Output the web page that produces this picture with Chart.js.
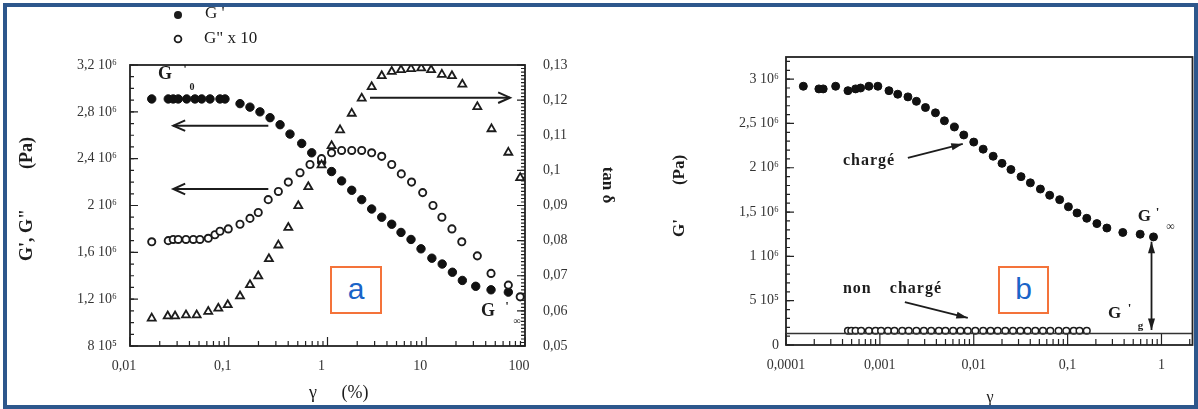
<!DOCTYPE html>
<html>
<head>
<meta charset="utf-8">
<script src="https://cdn.jsdelivr.net/npm/chart.js@4.4.1/dist/chart.umd.min.js"></script>
<style>
  html, body { margin: 0; padding: 0; background: #fff; overflow: hidden; }
  #wrap { position: relative; width: 1198px; height: 409px; background: #fff; }
  #chartA { position: absolute; left: 0; top: 0; width: 620px; height: 409px; }
  #chartB { position: absolute; left: 600px; top: 0; width: 598px; height: 409px; }
  .frame { position: absolute; left: 3px; top: 3px; width: 1195px; height: 406px; box-sizing: border-box;
           border: 4px solid #2d578c; pointer-events: none; }
  .tag { position: absolute; box-sizing: border-box; border: 2px solid #f4733a; background: #fff;
         color: #1a64c8; font: 30px "Liberation Sans", Arial, sans-serif; text-align: center; }
</style>
</head>
<body>
<div id="wrap">
  <canvas id="chartA" width="620" height="409"></canvas>
  <canvas id="chartB" width="598" height="409"></canvas>
  <div class="tag" style="left:330px;top:266px;width:52px;height:48px;line-height:42px;">a</div>
  <div class="tag" style="left:998px;top:266px;width:51px;height:48px;line-height:42px;">b</div>
  <div class="frame"></div>
</div>
<script>
// ---- panel a : strain sweep (γ in %), G' and G"x10 on left axis, tan δ on right axis
const strainGpA = [0.0166, 0.0244, 0.0274, 0.0308, 0.0375, 0.0455, 0.0532, 0.0646, 0.0815, 0.0916,
  0.130, 0.164, 0.207, 0.262, 0.331, 0.417, 0.548, 0.692, 0.873, 1.10, 1.39, 1.76, 2.22, 2.80,
  3.54, 4.47, 5.55, 7.01, 8.85, 11.4, 14.5, 18.4, 23.2, 31.7, 45.3, 67.8];
const gPrimeA = [2.91e6, 2.91e6, 2.91e6, 2.91e6, 2.91e6, 2.91e6, 2.91e6, 2.91e6, 2.91e6, 2.91e6,
  2.87e6, 2.84e6, 2.80e6, 2.75e6, 2.69e6, 2.61e6, 2.53e6, 2.45e6, 2.37e6, 2.29e6, 2.21e6, 2.13e6,
  2.05e6, 1.97e6, 1.90e6, 1.84e6, 1.77e6, 1.71e6, 1.63e6, 1.55e6, 1.50e6, 1.43e6, 1.36e6, 1.31e6,
  1.28e6, 1.26e6];

const strainGppA = [0.0166, 0.0244, 0.0274, 0.0308, 0.0369, 0.0438, 0.0511, 0.0620, 0.0725, 0.0815,
  0.0989, 0.130, 0.164, 0.199, 0.251, 0.318, 0.401, 0.527, 0.665, 0.870, 1.10, 1.39, 1.76, 2.22,
  2.80, 3.54, 4.47, 5.59, 7.10, 9.2, 11.7, 14.4, 18.2, 22.9, 32.9, 45.3, 67.8, 89.4];
const gDouble10A = [1.69e6, 1.70e6, 1.71e6, 1.71e6, 1.71e6, 1.71e6, 1.71e6, 1.72e6, 1.75e6, 1.78e6,
  1.80e6, 1.84e6, 1.89e6, 1.94e6, 2.05e6, 2.12e6, 2.20e6, 2.28e6, 2.35e6, 2.40e6, 2.45e6, 2.47e6,
  2.47e6, 2.47e6, 2.45e6, 2.42e6, 2.35e6, 2.27e6, 2.20e6, 2.11e6, 2.00e6, 1.90e6, 1.80e6, 1.69e6,
  1.57e6, 1.42e6, 1.32e6, 1.22e6];

const strainTanA = [0.0166, 0.0241, 0.0286, 0.0369, 0.0473, 0.0620, 0.0784, 0.0976, 0.130, 0.164,
  0.199, 0.255, 0.318, 0.401, 0.506, 0.639, 0.87, 1.10, 1.34, 1.76, 2.22, 2.80, 3.54, 4.47, 5.55,
  7.01, 8.9, 11.2, 14.4, 18.2, 23.2, 32.9, 45.8, 67.8, 89.4];
const tanDeltaA = [0.0579, 0.0585, 0.0585, 0.0588, 0.0588, 0.0598, 0.0607, 0.0617, 0.0642, 0.0674,
  0.0699, 0.0748, 0.0787, 0.0837, 0.0899, 0.0953, 0.1015, 0.107, 0.1115, 0.1162, 0.1205, 0.1238,
  0.1269, 0.1281, 0.1286, 0.1289, 0.1291, 0.1286, 0.1273, 0.1269, 0.1245, 0.1181, 0.1118, 0.1051,
  0.0979];

const xTicksA = [0.01, 0.1, 1, 10, 100];
const xLabelsA = ['0,01', '0,1', '1', '10', '100'];
const yTicksA = [0.8e6, 1.2e6, 1.6e6, 2.0e6, 2.4e6, 2.8e6, 3.2e6];
const yLabelsA = ['8 10⁵', '1,2 10⁶', '1,6 10⁶', '2 10⁶', '2,4 10⁶', '2,8 10⁶', '3,2 10⁶'];
const tanTicks = [0.05, 0.06, 0.07, 0.08, 0.09, 0.10, 0.11, 0.12, 0.13];
const tanLabels = ['0,05', '0,06', '0,07', '0,08', '0,09', '0,1', '0,11', '0,12', '0,13'];

// ---- panel b : filled (chargé) vs unfilled (non chargé) G' versus γ
const strainChargeB = [1.53e-4, 2.24e-4, 2.49e-4, 3.38e-4, 4.57e-4, 5.51e-4, 6.23e-4, 7.64e-4,
  9.52e-4, 1.25e-3, 1.55e-3, 1.99e-3, 2.45e-3, 3.06e-3, 3.91e-3, 4.87e-3, 6.22e-3, 7.83e-3,
  0.0100, 0.0126, 0.0161, 0.0200, 0.0249, 0.0319, 0.0401, 0.0513, 0.0644, 0.0823, 0.102, 0.126,
  0.160, 0.205, 0.262, 0.387, 0.593, 0.822];
const gChargeB = [2.92e6, 2.89e6, 2.89e6, 2.92e6, 2.87e6, 2.89e6, 2.90e6, 2.92e6, 2.92e6, 2.87e6,
  2.83e6, 2.80e6, 2.75e6, 2.68e6, 2.62e6, 2.53e6, 2.46e6, 2.37e6, 2.29e6, 2.21e6, 2.13e6, 2.05e6,
  1.98e6, 1.90e6, 1.83e6, 1.76e6, 1.69e6, 1.64e6, 1.56e6, 1.49e6, 1.43e6, 1.37e6, 1.32e6, 1.27e6,
  1.25e6, 1.22e6];

const strainNonB = [4.57e-4, 4.96e-4, 5.51e-4, 6.32e-4, 7.64e-4, 9.0e-4, 1.03e-3, 1.22e-3, 1.43e-3,
  1.73e-3, 2.03e-3, 2.45e-3, 2.94e-3, 3.52e-3, 4.25e-3, 5.0e-3, 6.03e-3, 7.22e-3, 8.63e-3, 1.04e-2,
  1.26e-2, 1.51e-2, 1.80e-2, 2.17e-2, 2.62e-2, 3.14e-2, 3.75e-2, 4.53e-2, 5.46e-2, 6.54e-2,
  8.02e-2, 9.68e-2, 0.116, 0.134, 0.160];
const gNonB = [1.6e5, 1.6e5, 1.6e5, 1.6e5, 1.6e5, 1.6e5, 1.6e5, 1.6e5, 1.6e5, 1.6e5, 1.6e5, 1.6e5,
  1.6e5, 1.6e5, 1.6e5, 1.6e5, 1.6e5, 1.6e5, 1.6e5, 1.6e5, 1.6e5, 1.6e5, 1.6e5, 1.6e5, 1.6e5,
  1.6e5, 1.6e5, 1.6e5, 1.6e5, 1.6e5, 1.6e5, 1.6e5, 1.6e5, 1.6e5, 1.6e5];

// G'g level (horizontal reference line)
const gLineX = [1e-4, 2.14];
const gLineY = [1.3e5, 1.3e5];

const xTicksB = [0.0001, 0.001, 0.01, 0.1, 1];
const xLabelsB = ['0,0001', '0,001', '0,01', '0,1', '1'];
const yTicksB = [0, 0.5e6, 1.0e6, 1.5e6, 2.0e6, 2.5e6, 3.0e6];
const yLabelsB = ['0', '5 10⁵', '1 10⁶', '1,5 10⁶', '2 10⁶', '2,5 10⁶', '3 10⁶'];

// ---- helpers
const SERIF = "'Liberation Serif', 'Times New Roman', serif";
const INK = '#1c1c1c';
const tickFont = { family: SERIF, size: 14 };

const pts = (xs, ys) => xs.map((x, i) => ({ x: x, y: ys[i] }));
const pick = (vals, labels) => v => {
  const i = vals.findIndex(t => Math.abs(t - v) <= Math.abs(t) * 1e-6 + 1e-12);
  return i < 0 ? '' : labels[i];
};
const setTicks = vals => s => { s.ticks = vals.map(v => ({ value: v })); };

function logMinor(min, max) {
  const out = [];
  for (let e = Math.floor(Math.log10(min)); e <= Math.ceil(Math.log10(max)); e++)
    for (let k = 2; k <= 9; k++) { const v = k * Math.pow(10, e); if (v > min && v < max) out.push(v); }
  return out;
}
function linSteps(min, max, step) {
  const out = [], n = Math.round((max - min) / step);
  for (let i = 0; i <= n; i++) out.push(min + i * step);
  return out;
}
function tickMarks(ctx, s, a, vals, len, side) {
  ctx.beginPath();
  vals.forEach(v => {
    const p = s.getPixelForValue(v);
    if (side === 'bottom') { ctx.moveTo(p, a.bottom); ctx.lineTo(p, a.bottom - len); }
    if (side === 'left') { ctx.moveTo(a.left, p); ctx.lineTo(a.left + len, p); }
    if (side === 'right') { ctx.moveTo(a.right, p); ctx.lineTo(a.right - len, p); }
  });
  ctx.stroke();
}
function txt(ctx, s, x, y, font, align, rot) {
  ctx.save();
  ctx.translate(x, y);
  if (rot) ctx.rotate(rot);
  ctx.font = font; ctx.fillStyle = INK;
  ctx.textAlign = align || 'center'; ctx.textBaseline = 'middle';
  ctx.fillText(s, 0, 0);
  ctx.restore();
}
function head(ctx, x1, y1, x2, y2, len, filled) {
  const ang = Math.atan2(y2 - y1, x2 - x1), w = filled ? 0.3 : 0.42;
  ctx.beginPath();
  ctx.moveTo(x2 - len * Math.cos(ang - w), y2 - len * Math.sin(ang - w));
  ctx.lineTo(x2, y2);
  ctx.lineTo(x2 - len * Math.cos(ang + w), y2 - len * Math.sin(ang + w));
  if (filled) { ctx.closePath(); ctx.fill(); } else ctx.stroke();
}
function arrow(ctx, x1, y1, x2, y2, len, filled, both) {
  ctx.beginPath(); ctx.moveTo(x1, y1); ctx.lineTo(x2, y2); ctx.stroke();
  head(ctx, x1, y1, x2, y2, len, filled);
  if (both) head(ctx, x2, y2, x1, y1, len, filled);
}

// ---- decorations panel a
const decorA = {
  id: 'decorA',
  beforeDatasetsDraw(chart) {
    const ctx = chart.ctx, a = chart.chartArea, s = chart.scales;
    ctx.save();
    ctx.strokeStyle = '#222';
    ctx.lineWidth = 1.2;
    tickMarks(ctx, s.x, a, xTicksA, 9, 'bottom');
    tickMarks(ctx, s.x, a, logMinor(0.01, 100), 5, 'bottom');
    tickMarks(ctx, s.y, a, yTicksA, 8, 'left');
    tickMarks(ctx, s.y, a, linSteps(0.8e6, 3.2e6, 0.1e6), 4, 'left');
    tickMarks(ctx, s.y1, a, tanTicks, 8, 'right');
    tickMarks(ctx, s.y1, a, linSteps(0.05, 0.13, 0.001), 4, 'right');
    ctx.lineWidth = 1.8;
    ctx.strokeRect(a.left, a.top, a.right - a.left, a.bottom - a.top);
    ctx.restore();
  },
  afterDatasetsDraw(chart) {
    const ctx = chart.ctx, s = chart.scales;
    const X = v => s.x.getPixelForValue(v), Y = v => s.y.getPixelForValue(v), T = v => s.y1.getPixelForValue(v);
    ctx.save();
    ctx.strokeStyle = INK; ctx.fillStyle = INK; ctx.lineWidth = 2;
    arrow(ctx, X(0.2516), Y(2.682e6), X(0.02745), Y(2.682e6), 13, false);
    arrow(ctx, X(0.2516), Y(2.141e6), X(0.02745), Y(2.141e6), 13, false);
    arrow(ctx, X(2.694), T(0.1207), X(70.5), T(0.1207), 13, false);
    // G'0 and G'inf labels
    txt(ctx, 'G', X(0.02262), Y(3.123e6), 'bold 18px ' + SERIF);
    txt(ctx, "'", X(0.0361), Y(3.157e6), 'bold 13px ' + SERIF);
    txt(ctx, '0', X(0.0425), Y(3.012e6), 'bold 10px ' + SERIF);
    txt(ctx, 'G', X(42.2), Y(1.099e6), 'bold 18px ' + SERIF);
    txt(ctx, "'", X(65.7), Y(1.133e6), 'bold 13px ' + SERIF);
    txt(ctx, '∞', X(83.0), Y(1.013e6), 'bold 10px ' + SERIF);
    ctx.restore();
  },
  afterDraw(chart) {
    const ctx = chart.ctx;
    ctx.save();
    // legend
    ctx.fillStyle = INK; ctx.strokeStyle = INK;
    ctx.beginPath(); ctx.arc(178, 15, 4, 0, Math.PI * 2); ctx.fill();
    ctx.lineWidth = 1.8;
    ctx.beginPath(); ctx.arc(178, 39, 3.4, 0, Math.PI * 2); ctx.stroke();
    txt(ctx, "G '", 205, 14, '17px ' + SERIF, 'left');
    txt(ctx, 'G" x 10', 204, 39, '17px ' + SERIF, 'left');
    // axis titles
    txt(ctx, '(Pa)', 27, 153, 'bold 18px ' + SERIF, 'center', -Math.PI / 2);
    txt(ctx, "G', G\"", 27, 235, 'bold 18px ' + SERIF, 'center', -Math.PI / 2);
    txt(ctx, 'tan δ', 607, 185, 'bold 17px ' + SERIF, 'center', Math.PI / 2);
    txt(ctx, 'γ', 313, 393, '18px ' + SERIF);
    txt(ctx, '(%)', 355, 393, '18px ' + SERIF);
    ctx.restore();
  }
};

// ---- decorations panel b
const decorB = {
  id: 'decorB',
  beforeDatasetsDraw(chart) {
    const ctx = chart.ctx, a = chart.chartArea, s = chart.scales;
    ctx.save();
    ctx.strokeStyle = '#222';
    ctx.lineWidth = 1.2;
    tickMarks(ctx, s.x, a, xTicksB, 12, 'bottom');
    tickMarks(ctx, s.x, a, logMinor(1e-4, 2.14), 6, 'bottom');
    tickMarks(ctx, s.y, a, yTicksB, 8, 'left');
    tickMarks(ctx, s.y, a, linSteps(0, 3.2e6, 0.1e6), 4, 'left');
    ctx.lineWidth = 1.8;
    ctx.strokeRect(a.left, a.top, a.right - a.left, a.bottom - a.top);
    ctx.restore();
  },
  afterDatasetsDraw(chart) {
    const ctx = chart.ctx, s = chart.scales;
    const X = v => s.x.getPixelForValue(v), Y = v => s.y.getPixelForValue(v);
    ctx.save();
    ctx.strokeStyle = INK; ctx.fillStyle = INK; ctx.lineWidth = 1.8;
    arrow(ctx, X(1.986e-3), Y(2.111e6), X(7.64e-3), Y(2.269e6), 12, true);
    arrow(ctx, X(1.845e-3), Y(0.485e6), X(8.64e-3), Y(0.305e6), 12, true);
    arrow(ctx, X(0.783), Y(1.166e6), X(0.783), Y(0.169e6), 12, true, true);
    ctx.letterSpacing = '1px';
    txt(ctx, 'chargé', X(4.04e-4), Y(2.077e6), 'bold 16px ' + SERIF, 'left');
    txt(ctx, 'non', X(4.04e-4), Y(0.632e6), 'bold 16px ' + SERIF, 'left');
    txt(ctx, 'chargé', X(1.277e-3), Y(0.632e6), 'bold 16px ' + SERIF, 'left');
    ctx.letterSpacing = '0px';
    txt(ctx, 'G', X(0.659), Y(1.445e6), 'bold 17px ' + SERIF);
    txt(ctx, "'", X(0.906), Y(1.49e6), 'bold 13px ' + SERIF);
    txt(ctx, '∞', X(1.247), Y(1.332e6), '12px ' + SERIF);
    txt(ctx, 'G', X(0.316), Y(0.35e6), 'bold 17px ' + SERIF);
    txt(ctx, "'", X(0.457), Y(0.406e6), 'bold 13px ' + SERIF);
    txt(ctx, 'g', X(0.598), Y(0.214e6), 'bold 11px ' + SERIF);
    ctx.restore();
  },
  afterDraw(chart) {
    const ctx = chart.ctx;
    txt(ctx, '(Pa)', 80, 170, 'bold 17px ' + SERIF, 'center', -Math.PI / 2);
    txt(ctx, "G'", 80, 228, 'bold 17px ' + SERIF, 'center', -Math.PI / 2);
    txt(ctx, 'γ', 390, 398, '16px ' + SERIF);
  }
};

const axisBase = {
  grid: { display: false, drawTicks: false },
  border: { display: false }
};

// ---- chart a
new Chart(document.getElementById('chartA'), {
  type: 'scatter',
  data: {
    datasets: [
      { label: 'tan δ', data: pts(strainTanA, tanDeltaA), yAxisID: 'y1', pointStyle: 'triangle',
        pointRadius: 4.6, backgroundColor: '#fff', borderColor: INK, borderWidth: 1.8 },
      { label: 'G" x 10', data: pts(strainGppA, gDouble10A), yAxisID: 'y', pointStyle: 'circle',
        pointRadius: 3.6, backgroundColor: '#fff', borderColor: INK, borderWidth: 1.9 },
      { label: "G'", data: pts(strainGpA, gPrimeA), yAxisID: 'y', pointStyle: 'circle',
        pointRadius: 4.2, backgroundColor: '#111', borderColor: '#111', borderWidth: 1 }
    ]
  },
  options: {
    responsive: false,
    animation: false,
    layout: { padding: { top: 65, left: 0, right: 0, bottom: 0 } },
    plugins: { legend: { display: false }, tooltip: { enabled: false } },
    scales: {
      x: { ...axisBase, type: 'logarithmic', min: 0.01, max: 100,
        afterBuildTicks: setTicks(xTicksA), afterFit: s => { s.height = 63; },
        ticks: { font: tickFont, color: '#333', padding: 12, labelOffset: -6, maxRotation: 0,
          autoSkip: false, callback: pick(xTicksA, xLabelsA) } },
      y: { ...axisBase, type: 'linear', position: 'left', min: 0.8e6, max: 3.2e6,
        afterBuildTicks: setTicks(yTicksA), afterFit: s => { s.width = 130; },
        ticks: { font: tickFont, color: '#333', padding: 13, callback: pick(yTicksA, yLabelsA) } },
      y1: { ...axisBase, type: 'linear', position: 'right', min: 0.05, max: 0.13,
        afterBuildTicks: setTicks(tanTicks), afterFit: s => { s.width = 95; },
        ticks: { font: tickFont, color: '#333', padding: 18, callback: pick(tanTicks, tanLabels) } }
    }
  },
  plugins: [decorA]
});

// ---- chart b
new Chart(document.getElementById('chartB'), {
  type: 'scatter',
  data: {
    datasets: [
      { label: "G'g", data: pts(gLineX, gLineY), showLine: true, pointRadius: 0,
        borderColor: '#333', borderWidth: 1.4 },
      { label: 'non chargé', data: pts(strainNonB, gNonB), pointStyle: 'circle',
        pointRadius: 3.3, backgroundColor: '#fff', borderColor: INK, borderWidth: 1.5 },
      { label: 'chargé', data: pts(strainChargeB, gChargeB), pointStyle: 'circle',
        pointRadius: 4, backgroundColor: '#111', borderColor: '#111', borderWidth: 1 }
    ]
  },
  options: {
    responsive: false,
    animation: false,
    layout: { padding: { top: 57, left: 0, right: 5, bottom: 0 } },
    plugins: { legend: { display: false }, tooltip: { enabled: false } },
    scales: {
      x: { ...axisBase, type: 'logarithmic', min: 1e-4, max: 2.14,
        afterBuildTicks: setTicks(xTicksB), afterFit: s => { s.height = 64; },
        ticks: { font: tickFont, color: '#333', padding: 12, maxRotation: 0, autoSkip: false,
          callback: pick(xTicksB, xLabelsB) } },
      y: { ...axisBase, type: 'linear', position: 'left', min: 0, max: 3.25e6,
        afterBuildTicks: setTicks(yTicksB), afterFit: s => { s.width = 186; },
        ticks: { font: tickFont, color: '#333', padding: 7, callback: pick(yTicksB, yLabelsB) } }
    }
  },
  plugins: [decorB]
});
</script>
</body>
</html>
